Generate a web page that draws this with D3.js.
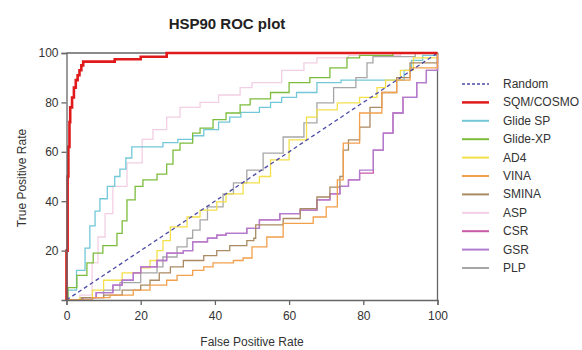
<!DOCTYPE html>
<html><head><meta charset="utf-8">
<script src="https://cdn.jsdelivr.net/npm/d3@7"></script>
<style>body{margin:0;background:#fff}svg{display:block}text{font-family:"Liberation Sans",Arial,sans-serif}</style>
</head><body><svg id="c" width="582" height="350"></svg>
<script>
const xTicks = [0, 20, 40, 60, 80, 100];
const yTicks = [20, 40, 60, 80, 100];
const seriesNames = ["Random","SQM/COSMO","Glide SP","Glide-XP","AD4","VINA","SMINA","ASP","CSR","GSR","PLP"];
const seriesColors = ["#4b4ba8","#e0191b","#72c8d8","#7cbc3c","#f3e04a","#f2a04c","#a98a63","#f2cfe4","#c85aa8","#b07cd0","#a6a6a6"];

const random = [[0,0],[100,100]];
const sqmCosmo = [[0,0],[0,20],[0.3,50],[0.5,62],[0.8,72],[1,78],[1.5,82],[2,86],[2.5,89],[3,91],[3.5,93],[4,95],[4.5,96.5],[13,97.5],[20,98.5],[27,100],[100,100]];
const glideSP = [[0,0],[0.4,4],[2.7,12],[5,21],[6.3,30],[7.7,36],[9,41],[11,46],[13,50],[14.4,53],[16,57.5],[17.6,62],[25.2,62],[26,63.7],[30,65],[34,66.5],[37,69],[41,72],[44,74],[47,76],[52,78],[55,80],[58,82],[62,84],[67.5,88],[74,89],[89,89],[91,93],[93,97],[96,99],[100,100]];
const glideXP = [[0,0],[0.4,5],[2.8,10],[5.5,15],[7.2,19],[9.8,22],[13.6,27],[15,32],[16.3,40.5],[18.5,46],[20.6,48.6],[24.4,51],[27,55],[28.7,60.7],[30.6,63.5],[34,67.6],[36,69.6],[39.5,73],[43,75.7],[46.8,79],[49.5,81.4],[55,84],[60,88],[65.6,90],[71,94],[75.6,98],[79,99],[88,100],[100,100]];
const ad4 = [[0,0],[3.6,1],[7,4],[10,8],[15,11],[20,13],[22.5,16],[24.4,20],[26,24],[28,29.6],[32.5,33.6],[36,36.4],[40.5,39.7],[43,43],[47.6,47.4],[52,50],[55,56.7],[60,64.8],[64.7,74],[67.5,77],[73,79.8],[79,82],[83.7,86],[86,89],[90,93],[93.5,98],[100,100]];
const vina = [[0,0],[7,1],[11.7,2],[18,4],[22.5,6],[27,8],[29.8,10],[34,12],[37,13.4],[39.5,15],[45,16],[47.6,17],[50,21.5],[54,25.5],[58.4,31],[66.5,33.6],[70,37.7],[73,48.6],[74.6,63.5],[79,75.7],[85,84],[89,89],[92.6,94],[100,100]];
const smina = [[0,0],[4,1],[10,2],[15,4],[20,6],[22.5,8],[25,11],[28,13.4],[31.5,16],[37,18],[40.5,20],[44,22],[48.6,24],[50.5,25],[51,30.4],[58.4,33],[63,37],[67.5,41.7],[71,45.7],[73.7,50],[74.6,60.7],[76,64.8],[79,70],[81.8,78],[85,84],[89,90],[92.6,96],[100,100]];
const asp = [[0,0],[3.6,2],[6.9,15],[8.5,25.5],[10.4,35],[12.5,46],[16.3,55.5],[20.4,65],[23.3,69],[27,74],[30.6,78],[36,80],[41,83],[46.8,86],[50,88],[58,93],[64,96],[67.5,98],[76,99],[90,100],[100,100]];
const csr = [[0,0],[4.5,1],[8,3],[12.5,6],[15,8],[18,11],[20,13.4],[24.4,16],[27,19],[31.5,20],[34,23.5],[38,25],[40.5,26.3],[43,27],[48.6,29],[52,32.4],[57.5,35],[63,36.4],[67.5,40.5],[71,43],[73.7,46],[76,48.6],[79,51.4],[82.7,60.7],[85.4,67.6],[88,75.7],[90.7,82],[94.4,88],[97,93],[100,100]];
const gsr = [[0,0],[4.5,1],[8,3],[12.5,6],[15,8],[18,11],[20,13.4],[24.4,16],[27,19],[31.5,20],[34,23.5],[38,25],[40.5,26.3],[43,27],[48.6,29],[52,30.4],[52,32.4],[57.5,35],[63,36.4],[67.5,40.5],[71,43],[73.7,46],[76,48.6],[79,52.6],[82.7,60.7],[85.4,67.6],[88,75.7],[90.7,82],[94.4,88],[97,93],[100,100]];
const plp = [[0,0],[7,1],[10,4],[14.4,7],[20,11],[24.4,13.4],[26,17.4],[29.8,21.5],[32.5,25],[34,28.3],[36,32.4],[38,37.7],[42.2,43],[45,47.4],[48.6,52.6],[53,59.5],[58.4,66],[64,71.7],[67.5,79.8],[72,86],[78,90],[81,96],[82.6,98.5],[91.7,98.5],[94,100],[100,100]];

const seriesData = [random, sqmCosmo, glideSP, glideXP, ad4, vina, smina, asp, csr, gsr, plp];

const svg = d3.select("#c");
const x = d3.scaleLinear().domain([0,100]).range([66.5,437.5]);
const y = d3.scaleLinear().domain([0,100]).range([300,53]);

// frame (top/right)
svg.append("path").attr("d",`M${x(0)},${y(100)}H${x(100)}V${y(0)}`).attr("fill","none").attr("stroke","#666").attr("stroke-width",1.3);

const line = d3.line().x(d=>x(d[0])).y(d=>y(d[1])).curve(d3.curveStepAfter);
const drawOrder = [7,2,3,10,4,8,9,6,5,0,1];
drawOrder.forEach(i=>{
  const p = svg.append("path").datum(seriesData[i])
    .attr("fill","none").attr("stroke",seriesColors[i])
    .attr("stroke-width", i===1?2.6:1.3)
    .attr("stroke-linejoin","miter")
    .attr("d", i===0 ? d3.line().x(d=>x(d[0])).y(d=>y(d[1]))(seriesData[i]) : line);
  if(i===0) p.attr("stroke-dasharray","4,3").attr("stroke-width",1.3);
});

const xAxis = svg.append("g").attr("transform",`translate(0,${y(0)})`)
  .call(d3.axisBottom(x).tickValues(xTicks).tickSize(5).tickPadding(6));
const yAxis = svg.append("g").attr("transform",`translate(${x(0)},0)`)
  .call(d3.axisLeft(y).tickValues(yTicks).tickSize(5).tickPadding(3));
[xAxis,yAxis].forEach(g=>{
  g.select(".domain").attr("stroke","#666").attr("stroke-width",1.3);
  g.selectAll(".tick line").attr("stroke","#666").attr("stroke-width",1.3);
  g.selectAll(".tick text").attr("fill","#333").style("font-size","12px").style("font-family","'Liberation Sans',Arial,sans-serif");
});

svg.append("text").attr("x",227).attr("y",29).attr("text-anchor","middle")
  .style("font-size","15px").style("font-weight","bold").attr("fill","#222").text("HSP90 ROC plot");
svg.append("text").attr("x",252).attr("y",346).attr("text-anchor","middle")
  .style("font-size","12px").attr("fill","#333").text("False Positive Rate");
svg.append("text").attr("transform","translate(26,178) rotate(-90)").attr("text-anchor","middle")
  .style("font-size","12px").attr("fill","#333").text("True Positive Rate");

const lg = svg.append("g");
seriesNames.forEach((n,i)=>{
  const yy = 84 + i*18.4;
  const l = lg.append("line").attr("x1",462).attr("x2",489).attr("y1",yy).attr("y2",yy)
    .attr("stroke",seriesColors[i]).attr("stroke-width", i===1?2.5:2);
  if(i===0) l.attr("stroke-dasharray","3,2").attr("stroke-width",1.3);
  lg.append("text").attr("x",503).attr("y",yy+4).style("font-size","12px").attr("fill","#333").text(n);
});
</script></body></html>
